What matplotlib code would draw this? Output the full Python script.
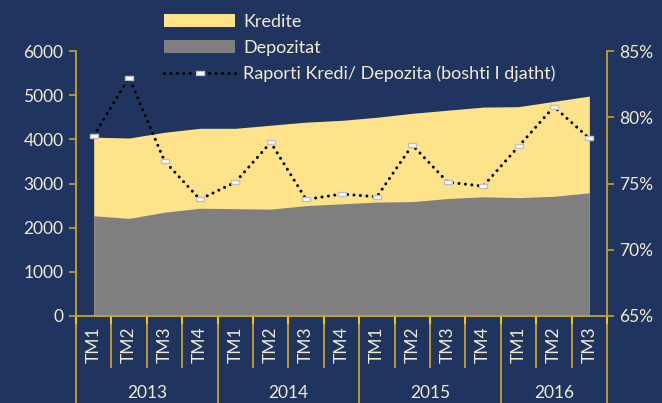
import matplotlib
matplotlib.use("Agg")
import matplotlib.pyplot as plt
import matplotlib.transforms as mtransforms
from matplotlib.patches import Patch
from matplotlib.lines import Line2D
from matplotlib.ticker import FuncFormatter

# data
quarters = ["TM1", "TM2", "TM3", "TM4",
            "TM1", "TM2", "TM3", "TM4",
            "TM1", "TM2", "TM3", "TM4",
            "TM1", "TM2", "TM3"]
years = ["2013", "2014", "2015", "2016"]
year_sizes = [4, 4, 4, 3]
kredite = [4050, 4030, 4160, 4250, 4250, 4320, 4390, 4430,
           4500, 4590, 4660, 4730, 4740, 4860, 4980]
depozitat = [2270, 2210, 2350, 2440, 2430, 2420, 2500, 2540,
             2580, 2590, 2660, 2700, 2680, 2710, 2790]
raporti = [78.6, 83.0, 76.7, 73.8, 75.1, 78.1, 73.8, 74.2,
           74.0, 77.9, 75.1, 74.8, 77.8, 80.8, 78.4]

BG = "#1f3560"
TXT = "#f2ead0"
GOLD = "#c9a227"
YELLOW = "#ffe38a"
GREY = "#7f7f7f"

plt.rcParams["font.family"] = ["Lato", "DejaVu Sans"]

fig = plt.figure(figsize=(6.62, 4.03), dpi=100, facecolor=BG)
ax = fig.add_axes([0.1148, 0.2159, 0.8022, 0.6575], facecolor=BG)
x = list(range(len(quarters)))

ax.fill_between(x, 0, kredite, color=YELLOW, lw=0, zorder=1)
ax.fill_between(x, 0, depozitat, color=GREY, lw=0, zorder=2)
ax.set_xlim(-0.5, len(quarters) - 0.5)
ax.set_ylim(0, 6000)
ax.set_yticks(range(0, 6001, 1000))
ax.tick_params(axis="y", colors=GOLD, labelcolor=TXT, labelsize=12.5,
               length=5, width=1.2, pad=4)
ax.set_xticks([])
for s in ["top", "right"]:
    ax.spines[s].set_visible(False)
ax.spines["left"].set_color(GOLD)
ax.spines["bottom"].set_color(GOLD)
ax.spines["left"].set_linewidth(1.3)
ax.spines["bottom"].set_linewidth(1.3)

ax2 = ax.twinx()
ax2.set_ylim(65, 85)
ax2.set_yticks(range(65, 86, 5))
ax2.yaxis.set_major_formatter(FuncFormatter(lambda v, p: f"{v:.0f}%"))
ax2.tick_params(axis="y", colors=GOLD, labelcolor=TXT, labelsize=12.5,
                length=5, width=1.2, pad=4)
for s in ["top", "left", "bottom"]:
    ax2.spines[s].set_visible(False)
ax2.spines["right"].set_color(GOLD)
ax2.spines["right"].set_linewidth(1.3)

dash_marker = [(-2, -0.9), (2, -0.9), (2, 0.9), (-2, 0.9), (-2, -0.9)]
line_kw = dict(color="black", lw=2.2, linestyle=(0, (0.01, 2.1)),
               dash_capstyle="round", marker=dash_marker, markersize=6,
               markerfacecolor="white", markeredgecolor="#c0c0c0",
               markeredgewidth=1)
ax2.plot(x, raporti, zorder=5, **line_kw)

# category axis: separators, quarter labels, year labels
trans = mtransforms.blended_transform_factory(ax.transData, ax.transAxes)
low = -0.193
bottom = -0.33
bounds = [0]
for n in year_sizes:
    bounds.append(bounds[-1] + n)
for i in range(len(quarters) + 1):
    ymin = bottom if i in bounds else low
    ax.plot([i - 0.5, i - 0.5], [0, ymin], color=GOLD, lw=1.3,
            transform=trans, clip_on=False)
    ax.plot([i - 0.5, i - 0.5], [0, -0.025], color="#ffc000", lw=1.5,
            transform=trans, clip_on=False)
for i, q in enumerate(quarters):
    ax.text(i, -0.11, q, rotation=90, ha="center", va="center",
            color=TXT, fontsize=12.5, transform=trans)
for k, yr in enumerate(years):
    mid = (bounds[k] + bounds[k + 1] - 1) / 2
    ax.text(mid, -0.29, yr, ha="center", va="center", color=TXT,
            fontsize=12.5, transform=trans)

handles = [Patch(facecolor=YELLOW, edgecolor="none"),
           Patch(facecolor=GREY, edgecolor="none"),
           Line2D([], [], **line_kw)]
labels = ["Kredite", "Depozitat", "Raporti Kredi/ Depozita (boshti I djatht)"]
fig.legend(handles, labels, loc="upper left", bbox_to_anchor=(0.232, 0.992),
           frameon=False, fontsize=13, labelcolor=TXT, handlelength=3.9,
           handleheight=0.7, labelspacing=0.55, handletextpad=0.45,
           numpoints=1, borderaxespad=0.2)

fig.savefig("out.png", dpi=100, facecolor=BG)
